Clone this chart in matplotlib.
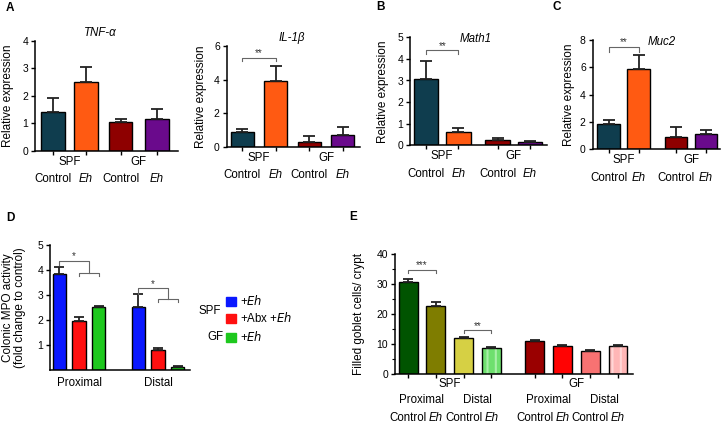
import numpy as np
import matplotlib
matplotlib.use("Agg")
import matplotlib.pyplot as plt

plt.rcParams['font.family'] = ['Liberation Sans', 'DejaVu Sans']
plt.rcParams['font.size'] = 8.5
plt.rcParams['axes.linewidth'] = 1.1
plt.rcParams['hatch.linewidth'] = 1.5

# ---- data ----
groups = ['SPF', 'GF']
treat = ['Control', 'Eh']

tnf = [1.40, 2.48, 1.03, 1.17]
tnf_err = [0.53, 0.57, 0.14, 0.33]
il1b = [0.88, 3.90, 0.30, 0.68]
il1b_err = [0.19, 0.88, 0.32, 0.47]
math1 = [3.08, 0.62, 0.25, 0.13]
math1_err = [0.82, 0.16, 0.08, 0.05]
muc2 = [1.85, 5.88, 0.92, 1.15]
muc2_err = [0.30, 1.00, 0.73, 0.27]

mpo_sites = ['Proximal', 'Distal']
mpo_legend = ['+Eh', '+Abx +Eh', '+Eh']
mpo = [3.85, 1.97, 2.52, 2.55, 0.80, 0.12]
mpo_err = [0.27, 0.18, 0.05, 0.50, 0.08, 0.06]

gob_sites = ['Proximal', 'Distal']
goblet = [30.7, 22.7, 11.9, 8.8, 11.1, 9.4, 7.7, 9.2]
goblet_err = [1.0, 1.4, 0.4, 0.15, 0.35, 0.3, 0.15, 0.3]

expr_cols = ['#0f3d4e', '#ff5a12', '#8e0000', '#6a0a8c']
mpo_cols = ['#0a18ff', '#ff1010', '#1ec81e']
gob_cols = ['#005400', '#7f7d00', '#d6d044', '#6ee06e', '#9a0000', '#ff0303', '#f87272', '#ffb6b6']
gob_stripe = [None, None, None, '#a8f0a8', None, None, None, '#ffd6d6']

W, H = 722, 423
fig = plt.figure(figsize=(W / 100, H / 100), dpi=100)


def px_axes(l, t, r, b):
    return fig.add_axes([l / W, 1 - b / H, (r - l) / W, (b - t) / H])


def ftext(x, y, s, **kw):
    fig.text(x / W, 1 - y / H, s, **kw)


def style(ax):
    for s in ['top', 'right']:
        ax.spines[s].set_visible(False)
    ax.tick_params(direction='out', length=3, width=1, labelsize=7.5, pad=2)


def under(ax, x, s, dy, **kw):
    ax.annotate(s, xy=(x, 0), xycoords=('data', 'axes fraction'), xytext=(0, -dy),
                textcoords='offset points', ha='center', va='center', fontsize=8.3, **kw)


def bracket(ax, x1, x2, y, d1, d2, stars=None, c='#666666'):
    ax.plot([x1, x1, x2, x2], [y - d1, y, y, y - d2], color=c, lw=0.8, clip_on=False)
    if stars:
        ax.annotate(stars, xy=((x1 + x2) / 2, y), xytext=(0, 1), textcoords='offset points',
                    ha='center', va='baseline', fontsize=7, color='#333333')


def expr_panel(box, vals, errs, pos, xlim, ylim, yticks, width, title, title_xy, ylab_x):
    ax = px_axes(*box)
    ax.bar(pos, vals, width=width, color=expr_cols, edgecolor='black', linewidth=1)
    ax.errorbar(pos, vals, yerr=[np.zeros(len(vals)), errs], fmt='none', ecolor='#222222',
                elinewidth=1.3, capsize=4.5, capthick=1.3)
    ax.set_xlim(xlim)
    ax.set_ylim(ylim)
    ax.set_yticks(yticks)
    ax.set_xticks(pos)
    ax.set_xticklabels([])
    style(ax)
    for g in range(2):
        under(ax, (pos[2 * g] + pos[2 * g + 1]) / 2, groups[g], 7.8)
        under(ax, pos[2 * g], treat[0], 20.5)
        under(ax, pos[2 * g + 1], treat[1], 20.5, style='italic')
    ftext(title_xy[0], title_xy[1], title, ha='center', va='center', style='italic', fontsize=8.3)
    ftext(ylab_x, (box[1] + box[3]) / 2, 'Relative expression', rotation=90, ha='center', va='center')
    return ax


# ---- panel A ----
p = [0, 1, 2.05, 3.15]
expr_panel((35, 40.7, 178, 150.7), tnf, tnf_err, p, (-0.54, 3.79), (0, 4), [0, 1, 2, 3, 4], 0.72,
           'TNF-α', (100, 33), 8)
p = [0, 1, 2, 3]
ax = expr_panel((226.7, 46, 360, 146.7), il1b, il1b_err, p, (-0.47, 3.51), (0, 6), [0, 2, 4, 6], 0.69,
                'IL-1β', (292, 38), 201)
bracket(ax, 0, 1, 5.3, 0.18, 0.18, '**')

# ---- panel B ----
p = [0, 1, 2.2, 3.2]
ax = expr_panel((410, 37.3, 547, 145.3), math1, math1_err, p, (-0.49, 3.72), (0, 5), [0, 1, 2, 3, 4, 5], 0.74,
                'Math1', (476, 39), 383)
bracket(ax, 0, 1, 4.41, 0.18, 0.18, '**')

# ---- panel C ----
p = [0, 1, 2.25, 3.25]
ax = expr_panel((592.7, 40, 720, 149.3), muc2, muc2_err, p, (-0.53, 3.72), (0, 8), [0, 2, 4, 6, 8], 0.75,
                'Muc2', (662, 41.7), 569)
bracket(ax, 0, 1, 7.5, 0.36, 0.36, '**')

# ---- panel D ----
ax = px_axes(50, 245.3, 190, 370.3)
p = np.array([0, 1, 2, 4, 5, 6])
ax.bar(p, mpo, width=0.68, color=mpo_cols * 2, edgecolor='black', linewidth=1)
ax.errorbar(p, mpo, yerr=[np.zeros(6), mpo_err], fmt='none', ecolor='#222222',
            elinewidth=1.3, capsize=3.5, capthick=1.3)
ax.set_xlim(-0.47, 6.62)
ax.set_ylim(0, 5)
ax.set_yticks([1, 2, 3, 4, 5])
ax.set_xticks([])
style(ax)
under(ax, 1, mpo_sites[0], 9)
under(ax, 5, mpo_sites[1], 9)
bracket(ax, 0, 1.5, 4.38, 0.18, 0.48, '*')
bracket(ax, 1, 2, 3.9, 0.13, 0.13)
bracket(ax, 4, 5.5, 3.28, 0.23, 0.44, '*')
bracket(ax, 5, 6, 2.84, 0.12, 0.12)
ftext(14, 307.8, 'Colonic MPO activity\n(fold change to control)', rotation=90,
      ha='center', va='center', linespacing=1.1)

# legend for D
for i, yy in enumerate([301, 318, 337]):
    fig.patches.append(plt.Rectangle(((226) / W, 1 - (yy + 4.5) / H), 10 / W, 9 / H,
                                     color=mpo_cols[i], transform=fig.transFigure))
ftext(240.5, 301, '+$\\it{Eh}$', va='center', fontsize=8.3)
ftext(240.5, 318, '+Abx +$\\it{Eh}$', va='center', fontsize=8.3)
ftext(240.5, 337, '+$\\it{Eh}$', va='center', fontsize=8.3)
ftext(221, 310.5, groups[0], ha='right', va='center', fontsize=8.3)
ftext(223, 336.7, groups[1], ha='right', va='center', fontsize=8.3)

# ---- panel E ----
ax = px_axes(395, 253.7, 633, 374)
p = np.array([0, 1, 2, 3, 4.55, 5.55, 6.55, 7.55])
for i in range(8):
    if gob_stripe[i]:
        ax.bar(p[i], goblet[i], width=0.68, color=gob_cols[i], edgecolor=gob_stripe[i],
               hatch='||', linewidth=0)
        ax.bar(p[i], goblet[i], width=0.68, fill=False, edgecolor='black', linewidth=1)
    else:
        ax.bar(p[i], goblet[i], width=0.68, color=gob_cols[i], edgecolor='black', linewidth=1)
ax.errorbar(p, goblet, yerr=[np.zeros(8), goblet_err], fmt='none', ecolor='#222222',
            elinewidth=1.3, capsize=3.5, capthick=1.3)
ax.set_xlim(-0.47, 8.09)
ax.set_ylim(0, 40)
ax.set_yticks([0, 10, 20, 30, 40])
ax.set_yticks([5, 15, 25, 35], minor=True)
ax.tick_params(axis='y', which='minor', length=2, width=0.8, direction='out')
ax.set_xticks(p)
ax.set_xticklabels([])
style(ax)
for g in range(2):
    b = 4 * g
    under(ax, (p[b] + p[b + 3]) / 2, groups[g], 7.4)
    for s in range(2):
        under(ax, (p[b + 2 * s] + p[b + 2 * s + 1]) / 2, gob_sites[s], 18.7)
        under(ax, p[b + 2 * s], treat[0], 31.8)
        under(ax, p[b + 2 * s + 1], treat[1], 31.8, style='italic')
bracket(ax, 0, 1, 34.6, 1.1, 1.1, '***')
bracket(ax, 2, 3, 14.6, 1.1, 1.1, '**')
ftext(359, 314, 'Filled goblet cells/ crypt', rotation=90, ha='center', va='center')

# panel letters
for lab, x, y in [('A', 10, 8), ('B', 381, 7), ('C', 557, 7), ('D', 10, 218), ('E', 353, 217)]:
    ftext(x, y, lab, ha='center', va='center', fontweight='bold', fontsize=8.5)

fig.savefig('out.png', dpi=100)
